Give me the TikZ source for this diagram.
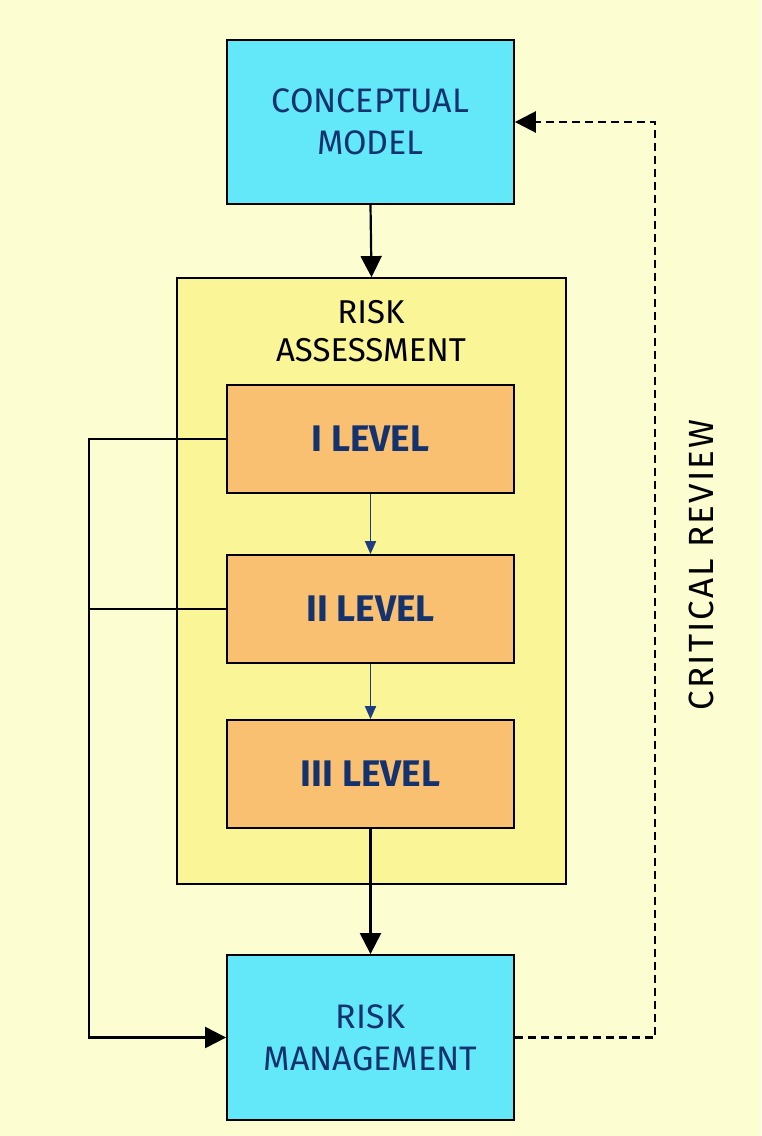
\documentclass[tikz,border=0pt]{standalone}
\usepackage{fontspec}
\setmainfont{Fira Sans}
\usetikzlibrary{arrows.meta}
\definecolor{pagebg}{RGB}{253,253,210}
\definecolor{cyanbox}{RGB}{98,232,248}
\definecolor{assessbg}{RGB}{250,245,150}
\definecolor{levelbg}{RGB}{248,192,112}
\definecolor{navytext}{RGB}{20,50,110}
\definecolor{levelarrow}{RGB}{30,60,130}
\tikzset{
  mainbox/.style={draw=black, line width=1.8pt, fill=cyanbox, minimum width=287pt,
    minimum height=164pt, align=center, text=navytext, font=\fontsize{34}{42}\selectfont},
  levelbox/.style={draw=black, line width=1.8pt, fill=levelbg, minimum width=287pt,
    minimum height=108pt, text=navytext, font=\bfseries\fontsize{37}{42}\selectfont},
  framebox/.style={draw=black, line width=1.8pt, fill=assessbg, minimum width=389pt,
    minimum height=606pt},
  flow/.style={draw=black, line width=2.2pt, -{Triangle[length=21pt,width=21pt]}},
  levelflow/.style={draw=levelarrow, line width=1.8pt, -{Triangle[length=13pt,width=11pt]}},
  review/.style={draw=black, line width=2.6pt, dash pattern=on 8pt off 5pt,
    -{Triangle[length=21pt,width=21pt]}},
  caption/.style={align=center, text=black, font=\fontsize{33}{38}\selectfont}
}
\begin{document}
\begin{tikzpicture}[x=1pt,y=-1pt]
  % page
  \fill[pagebg] (0,0) rectangle (761,1136);
  \useasboundingbox (0,0) rectangle (761,1136);

  % boxes
  \node[mainbox] (cm) at (370.5,122) {CONCEPTUAL\\MODEL};
  \node[framebox] (ra) at (371.5,581) {};
  \node[caption] (ratitle) at (371,331) {RISK\\ASSESSMENT};
  \node[levelbox] (l1) at (370.5,439) {I LEVEL};
  \node[levelbox] (l2) at (370.5,609) {II LEVEL};
  \node[levelbox] (l3) at (370.5,774) {III LEVEL};
  \node[mainbox, minimum height=165pt] (rm) at (370.5,1037.5) {RISK\\MANAGEMENT};

  % rail positions
  \coordinate (leftrail) at (89,0);
  \coordinate (rightrail) at (655,0);

  % main flow
  \draw[flow] (cm.south) -- (ra.north);
  \draw[levelflow] (l1.south) -- (l2.north);
  \draw[levelflow] (l2.south) -- (l3.north);
  \draw[flow] (l3.south) -- (rm.north);

  % direct paths from the levels to risk management
  \draw[flow] (l1.west) -- (l1.west -| leftrail) |- (rm.west);
  \draw[black, line width=1.8pt] (l2.west) -- (l2.west -| leftrail);

  % critical review loop
  \draw[review] (rm.east) -- (rm.east -| rightrail) |- (cm.east);
  \node[caption, rotate=90, font=\fontsize{35}{40}\selectfont\addfontfeatures{LetterSpace=6}]
    (crit) at (701,565) {CRITICAL REVIEW};
\end{tikzpicture}
\end{document}
